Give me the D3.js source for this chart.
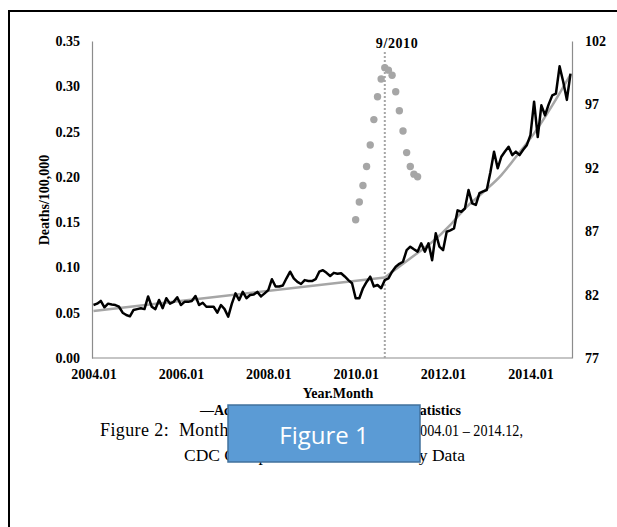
<!DOCTYPE html>
<html>
<head>
<meta charset="utf-8">
<script src="https://cdnjs.cloudflare.com/ajax/libs/d3/7.8.5/d3.min.js"></script>
<style>
  body { margin: 0; background: #fff; }
</style>
</head>
<body>
<div id="chart"></div>
<script>
// monthly deaths per 100,000, 2004.01 - 2014.12 (one row per year)
var deaths = [
	0.0585,0.060,0.063,0.056,0.060,0.059,0.0585,0.0566,0.050,0.0475,0.046,0.053,
	0.054,0.055,0.054,0.068,0.0566,0.054,0.064,0.055,0.066,0.060,0.062,0.067,
	0.0585,0.062,0.062,0.063,0.0685,0.0585,0.061,0.0566,0.0566,0.0566,0.050,0.0585,
	0.054,0.0456,0.060,0.0714,0.064,0.073,0.066,0.0696,0.070,0.073,0.068,0.0714,
	0.075,0.087,0.079,0.079,0.080,0.088,0.0953,0.088,0.084,0.0817,0.086,0.085,
	0.085,0.087,0.0953,0.097,0.094,0.0905,0.094,0.093,0.0935,0.090,0.086,0.0825,
	0.066,0.066,0.077,0.084,0.0898,0.079,0.0806,0.077,0.086,0.088,0.0953,0.1008,
	0.104,0.1063,0.119,0.1229,0.120,0.1174,0.1266,0.1174,0.1266,0.108,0.1377,0.1229,
	0.119,0.1394,0.141,0.143,0.163,0.1615,0.165,0.1855,0.1708,0.169,0.182,0.184,
	0.1855,0.205,0.2278,0.2094,0.2222,0.228,0.2333,0.224,0.2278,0.224,0.230,0.235,
	0.246,0.283,0.244,0.279,0.268,0.280,0.290,0.292,0.322,0.305,0.285,0.314
];

// trend line: [month index, value]
var trendBefore = [[0, 0.052], [80, 0.089]];
var trendAfter = [[80, 0.089], [84, 0.101], [89, 0.116], [93, 0.128], [98, 0.147],
	[102, 0.165], [107, 0.183], [112, 0.202], [116, 0.222], [121, 0.248],
	[126, 0.279], [131, 0.313]];

// grey dots on the right axis (2010.01 - 2011.06)
var dotMonths = [72,73,74,75,76,77,78,79,80,81,82,83,84,85,86,87,88,89];
var dotValues = [87.9,89.3,90.6,92.1,93.8,95.8,97.6,99.0,99.9,99.7,99.3,98.0,96.5,94.9,93.2,92.1,91.5,91.3];

var breakMonth = 80;
var breakLabel = "9/2010";

var xTickMonths = [0, 24, 48, 72, 96, 120];
var xTickLabels = ["2004.01", "2006.01", "2008.01", "2010.01", "2012.01", "2014.01"];
var yTicks = [0, 0.05, 0.10, 0.15, 0.20, 0.25, 0.30, 0.35];
var y2Ticks = [77, 82, 87, 92, 97, 102];

var W = 617, H = 527;
var plot = {left: 92, right: 572, top: 41, bottom: 358};
var serif = "'Liberation Serif', 'Times New Roman', serif";

var svg = d3.select("#chart")
  .append("svg")
	.attr("width", W)
	.attr("height", H);

svg.append("rect").attr("width", W).attr("height", H).attr("fill", "#fff");

// page frame
svg.append("path")
	.attr("d", "M9," + H + "V11H" + W)
	.attr("fill", "none")
	.attr("stroke", "#000")
	.attr("stroke-width", 2);

// scales
var x = d3.scaleLinear().domain([0, 131]).range([93.5, 570.5]);
var y = d3.scaleLinear().domain([0, 0.35]).range([plot.bottom, plot.top]);
var y2 = d3.scaleLinear().domain([77, 102]).range([plot.bottom, plot.top]);

function styleAxis(g) {
	g.select(".domain").attr("stroke", "#8c8c8c").attr("stroke-width", 1.2);
	g.selectAll("text")
		.style("font-family", serif)
		.style("font-weight", "bold")
		.style("font-size", "14px")
		.attr("fill", "#000");
}

// Add Y axis (left)
svg.append("g")
	.attr("transform", "translate(" + plot.left + ",0)")
	.call(d3.axisLeft(y).tickValues(yTicks).tickFormat(d3.format(".2f")).tickSize(0).tickPadding(12).tickSizeOuter(0))
	.call(styleAxis);

// Add Y axis (right)
svg.append("g")
	.attr("transform", "translate(" + plot.right + ",0)")
	.call(d3.axisRight(y2).tickValues(y2Ticks).tickSize(0).tickPadding(13).tickSizeOuter(0))
	.call(styleAxis);

// Add X axis
var xAxis = svg.append("g")
	.attr("transform", "translate(0," + plot.bottom + ")")
	.call(d3.axisBottom(x).tickValues(xTickMonths)
		.tickFormat(function(d, i) { return xTickLabels[i]; })
		.tickSize(0).tickPadding(11).tickSizeOuter(0))
	.call(styleAxis);
xAxis.select(".domain").remove();
svg.append("line")
	.attr("x1", plot.left).attr("x2", plot.right)
	.attr("y1", plot.bottom).attr("y2", plot.bottom)
	.attr("stroke", "#8c8c8c").attr("stroke-width", 1.2);

// axis titles
svg.append("text")
	.attr("transform", "translate(49,200) rotate(-90)")
	.attr("text-anchor", "middle")
	.style("font-family", serif).style("font-weight", "bold").style("font-size", "14px")
	.text("Deaths/100,000");

svg.append("text")
	.attr("x", 338).attr("y", 398)
	.attr("text-anchor", "middle")
	.style("font-family", serif).style("font-weight", "bold").style("font-size", "14px")
	.text("Year.Month");

// dotted break line
svg.append("line")
	.attr("x1", x(breakMonth)).attr("x2", x(breakMonth))
	.attr("y1", 52).attr("y2", plot.bottom)
	.attr("stroke", "#a6a6a6")
	.attr("stroke-width", 2)
	.attr("stroke-dasharray", "2,2");

svg.append("text")
	.attr("x", x(breakMonth) - 9).attr("y", 48)
	.style("font-family", serif).style("font-weight", "bold").style("font-size", "14px")
	.style("letter-spacing", "0.6px")
	.text(breakLabel);

// trend line
svg.append("path")
	.datum(trendBefore)
	.attr("fill", "none")
	.attr("stroke", "#a6a6a6")
	.attr("stroke-width", 2.5)
	.attr("d", d3.line()
		.x(function(d) { return x(d[0]); })
		.y(function(d) { return y(d[1]); }));

svg.append("path")
	.datum(trendAfter)
	.attr("fill", "none")
	.attr("stroke", "#a6a6a6")
	.attr("stroke-width", 2.5)
	.attr("d", d3.line()
		.curve(d3.curveMonotoneX)
		.x(function(d) { return x(d[0]); })
		.y(function(d) { return y(d[1]); }));

// Add the line
svg.append("path")
	.datum(deaths)
	.attr("fill", "none")
	.attr("stroke", "#000")
	.attr("stroke-width", 2.5)
	.attr("stroke-linejoin", "round")
	.attr("d", d3.line()
		.x(function(d, i) { return x(i); })
		.y(function(d) { return y(d); }));

// dots
svg.selectAll(".dot")
	.data(dotMonths)
	.enter()
	.append("circle")
	.attr("class", "dot")
	.attr("cx", function(d) { return x(d); })
	.attr("cy", function(d, i) { return y2(dotValues[i]); })
	.attr("r", 3.7)
	.attr("fill", "#a6a6a6");

// legend (mostly hidden under the box)
svg.append("text")
	.attr("x", 200).attr("y", 415)
	.style("font-family", serif).style("font-weight", "bold").style("font-size", "14px")
	.text("\u2014Actual Rate");
svg.append("text")
	.attr("x", 461).attr("y", 415)
	.attr("text-anchor", "end")
	.style("font-family", serif).style("font-weight", "bold").style("font-size", "14px")
	.text("Vital Statistics");

// caption
svg.append("text")
	.attr("x", 100).attr("y", 436)
	.style("font-family", serif).style("font-size", "18px")
	.style("letter-spacing", "0.4px")
	.style("white-space", "pre")
	.text("Figure 2:  Monthly Deaths/100,000,");
svg.append("text")
	.attr("x", 413).attr("y", 436)
	.attr("textLength", 110)
	.attr("lengthAdjust", "spacingAndGlyphs")
	.style("font-family", serif).style("font-size", "17.5px")
	.text("2004.01 \u2013 2014.12,");
svg.append("text")
	.attr("x", 184).attr("y", 461)
	.style("font-family", serif).style("font-size", "17.5px")
	.text("CDC Compressed");
svg.append("text")
	.attr("x", 465).attr("y", 461)
	.attr("text-anchor", "end")
	.style("font-family", serif).style("font-size", "17.5px")
	.text("Mortality Data");

// blue "Figure 1" box
svg.append("rect")
	.attr("x", 228).attr("y", 405)
	.attr("width", 192).attr("height", 57)
	.attr("fill", "#5b9bd5")
	.attr("stroke", "#41719c")
	.attr("stroke-width", 1.5);
svg.append("text")
	.attr("x", 324).attr("y", 444)
	.attr("text-anchor", "middle")
	.attr("fill", "#fff")
	.style("font-family", "'Open Sans', sans-serif")
	.style("font-size", "24px")
	.text("Figure 1");
</script>
</body>
</html>
